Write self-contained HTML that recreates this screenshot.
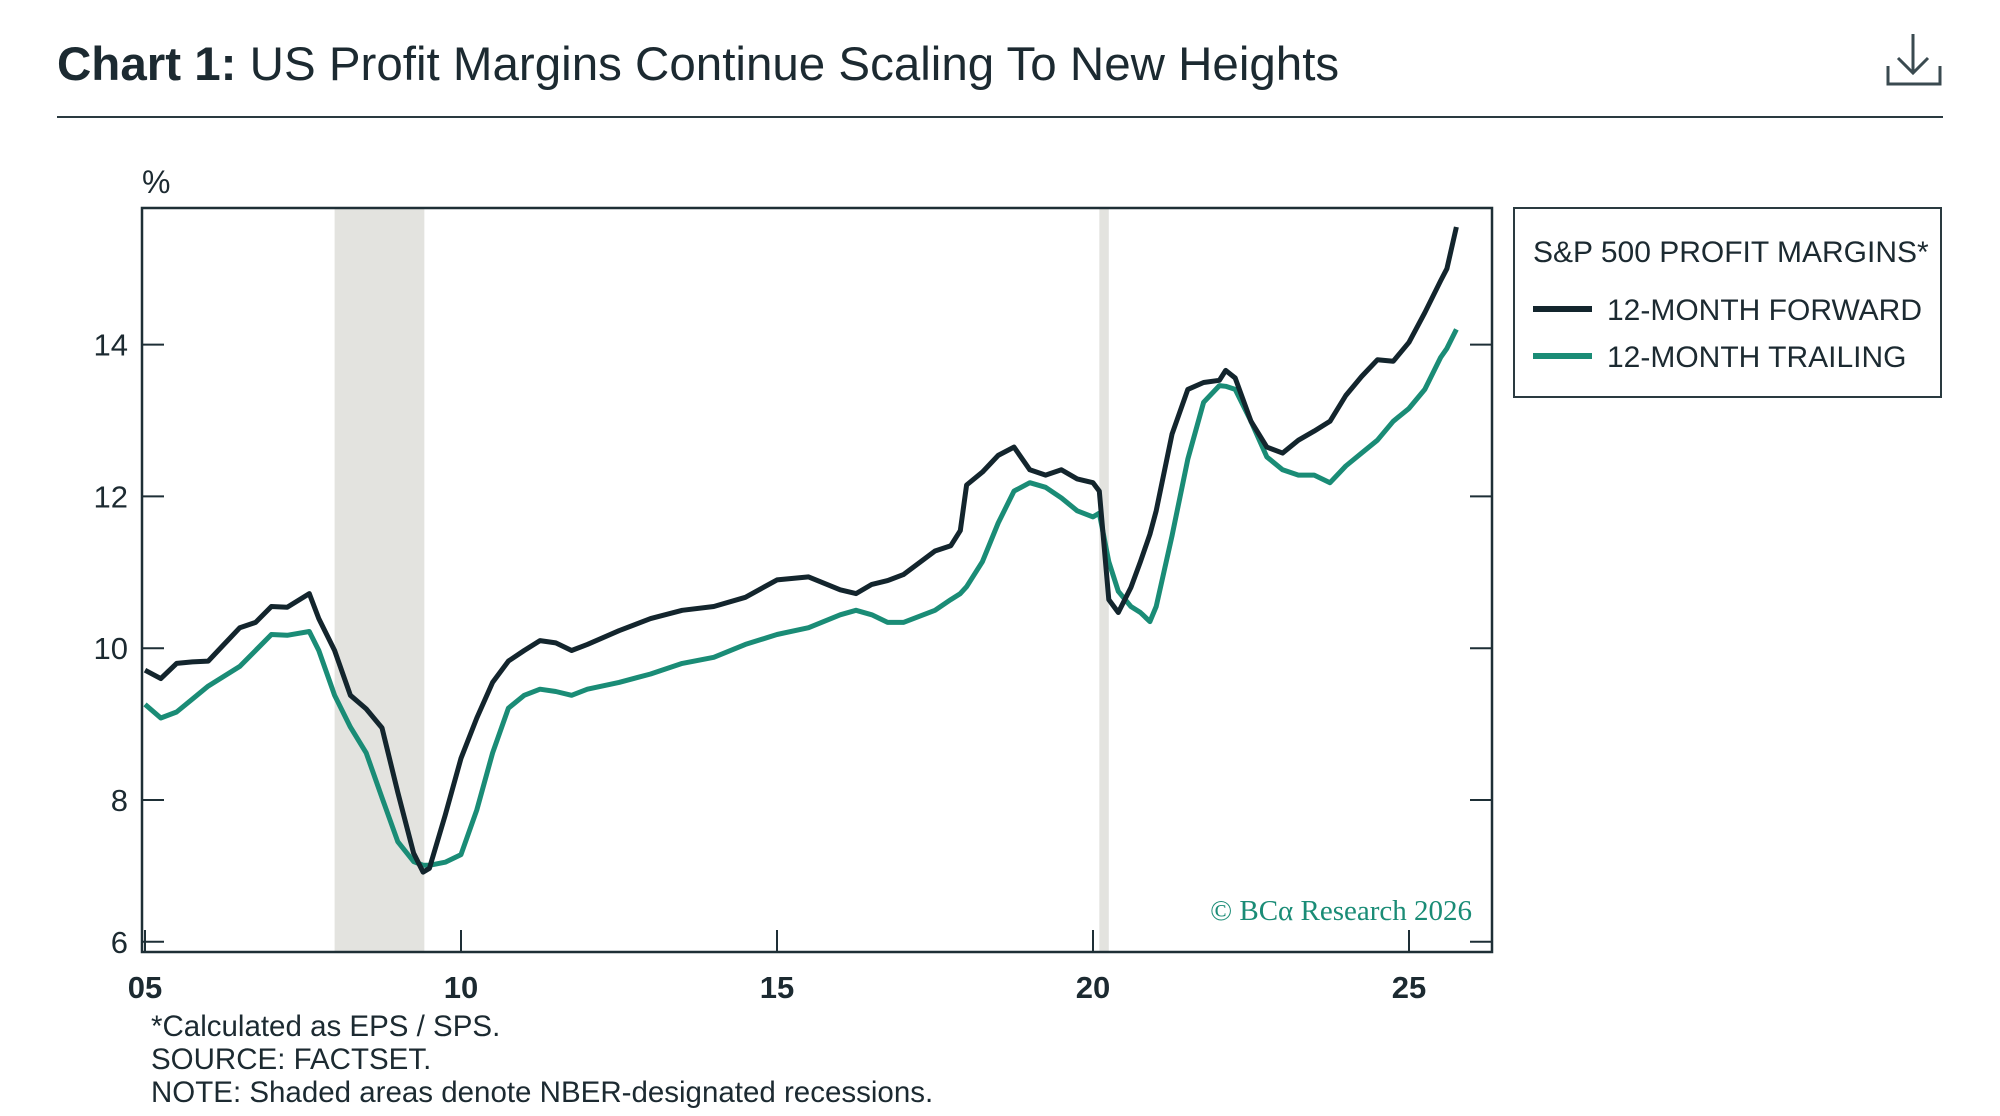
<!DOCTYPE html>
<html><head><meta charset="utf-8"><style>
body{margin:0;background:#fff;}
svg{display:block;font-family:"Liberation Sans",sans-serif;}
</style></head><body>
<svg width="2000" height="1116" viewBox="0 0 2000 1116">
<text x="57" y="80" font-size="47.5" fill="#1c2a31"><tspan font-weight="bold">Chart 1:</tspan> US Profit Margins Continue Scaling To New Heights</text>
<line x1="57" y1="117" x2="1943" y2="117" stroke="#2a3a40" stroke-width="2"/>
<g stroke="#3a4a50" stroke-width="3" fill="none">
<path d="M1913 34 V72 M1898 58 L1913 73 L1928 58"/>
<path d="M1888 66 V84 H1940 V66"/>
</g>
<text x="142" y="193" font-size="32" fill="#1c2a31">%</text>
<g id="plot"></g>
<rect x="1514" y="208" width="427" height="189" fill="none" stroke="#2a3a40" stroke-width="2"/>
<text x="1533" y="262" font-size="30" fill="#1c2a31">S&amp;P 500 PROFIT MARGINS*</text>
<line x1="1533" y1="309" x2="1592" y2="309" stroke="#13252d" stroke-width="6"/>
<text x="1607" y="320" font-size="30" fill="#1c2a31">12-MONTH FORWARD</text>
<line x1="1533" y1="356" x2="1592" y2="356" stroke="#1a8c76" stroke-width="6"/>
<text x="1607" y="367" font-size="30" fill="#1c2a31">12-MONTH TRAILING</text>
<text x="1472" y="920" font-size="29" text-anchor="end" fill="#1a8c76" font-family="Liberation Serif, serif">© BCα Research 2026</text>
<g font-size="29.5" fill="#1c2a31">
<text x="151" y="1036">*Calculated as EPS / SPS.</text>
<text x="151" y="1069">SOURCE: FACTSET.</text>
<text x="151" y="1102">NOTE: Shaded areas denote NBER-designated recessions.</text>
</g>
</svg>
<script>
const years=[2005,2005.25,2005.5,2005.75,2006,2006.25,2006.5,2006.75,2007,2007.25,2007.6,2007.75,2008,2008.25,2008.5,2008.75,2009,2009.25,2009.4,2009.5,2009.75,2010,2010.25,2010.5,2010.75,2011,2011.25,2011.5,2011.75,2012,2012.5,2013,2013.5,2014,2014.5,2015,2015.5,2016,2016.25,2016.5,2016.75,2017,2017.5,2017.75,2017.9,2018,2018.25,2018.5,2018.75,2019,2019.25,2019.5,2019.75,2020,2020.1,2020.25,2020.4,2020.6,2020.75,2020.9,2021,2021.25,2021.5,2021.75,2022,2022.1,2022.25,2022.5,2022.75,2023,2023.25,2023.5,2023.75,2024,2024.25,2024.5,2024.75,2025,2025.25,2025.5,2025.6,2025.75];
const forward=[9.71,9.6,9.8,9.82,9.83,10.05,10.27,10.34,10.55,10.54,10.72,10.39,9.97,9.38,9.2,8.95,8.1,7.3,7.05,7.1,7.8,8.55,9.08,9.55,9.83,9.97,10.1,10.07,9.97,10.05,10.23,10.39,10.5,10.55,10.67,10.9,10.94,10.77,10.72,10.84,10.89,10.97,11.28,11.35,11.55,12.15,12.32,12.54,12.65,12.35,12.28,12.35,12.23,12.18,12.07,10.64,10.47,10.8,11.14,11.5,11.81,12.82,13.41,13.5,13.53,13.66,13.56,12.99,12.65,12.57,12.74,12.86,12.99,13.33,13.58,13.8,13.78,14.03,14.42,14.84,15.0,15.55];
const trailing=[9.26,9.08,9.16,9.33,9.5,9.63,9.76,9.97,10.18,10.17,10.22,9.97,9.38,8.96,8.62,8.03,7.45,7.19,7.14,7.14,7.18,7.28,7.87,8.62,9.21,9.38,9.46,9.43,9.38,9.46,9.55,9.66,9.8,9.88,10.05,10.18,10.27,10.44,10.5,10.44,10.34,10.34,10.5,10.64,10.72,10.81,11.14,11.65,12.07,12.18,12.12,11.98,11.81,11.73,11.78,11.14,10.75,10.55,10.47,10.35,10.55,11.48,12.49,13.24,13.46,13.45,13.41,12.99,12.52,12.35,12.28,12.28,12.18,12.4,12.57,12.74,12.99,13.16,13.41,13.83,13.95,14.2];
const yTicks=[6,8,10,12,14];
const yTickLabels=["6","8","10","12","14"];
const xTicks=[2005,2010,2015,2020,2025];
const xTickLabels=["05","10","15","20","25"];
const recessions=[[2008.0,2009.42],[2020.1,2020.25]];

const L=142,R=1492,T=208,B=952;
const xS=y=>145+(y-2005)*63.2;
const yS=v=>800-(v-8)*75.9;
const NS="http://www.w3.org/2000/svg";
const g=document.getElementById('plot');
function mk(tag,attrs){const e=document.createElementNS(NS,tag);for(const k in attrs)e.setAttribute(k,attrs[k]);g.appendChild(e);return e;}
recessions.forEach((r,i)=>{
  const e=mk('rect',{x:xS(r[0]),y:T,width:xS(r[1])-xS(r[0]),height:B-T,fill:'#e3e3df'});
  
  
});
const fr=mk('rect',{x:L,y:T,width:R-L,height:B-T,fill:'none',stroke:'#1e2f36','stroke-width':2.5});


yTicks.forEach((v,i)=>{
  const y=v===6?yS(v)-10:yS(v);
  const t1=mk('line',{x1:L,x2:L+22,y1:y,y2:y,stroke:'#1e2f36','stroke-width':2});
  
  
  const t2=mk('line',{x1:R-22,x2:R,y1:y,y2:y,stroke:'#1e2f36','stroke-width':2});
  
  
  const tx=mk('text',{x:128,y:y+11,'font-size':31,'text-anchor':'end',fill:'#1c2a31'});
  tx.textContent=yTickLabels[i];
  
  
});
xTicks.forEach((v,i)=>{
  const x=xS(v);
  const t=mk('line',{x1:x,x2:x,y1:B-22,y2:B,stroke:'#1e2f36','stroke-width':2});
  
  
  const tx=mk('text',{x:x,y:998,'font-size':31,'font-weight':'bold','text-anchor':'middle',fill:'#1c2a31'});
  tx.textContent=xTickLabels[i];
  
  
});
function line(vals,color,name){
  const d=vals.map((v,i)=>(i?'L':'M')+xS(years[i]).toFixed(1)+' '+yS(v).toFixed(1)).join(' ');
  const p=mk('path',{d:d,fill:'none',stroke:color,'stroke-width':5,'stroke-linejoin':'round'});
  
  
}
line(trailing,'#1a8c76','trailing-line');
line(forward,'#13252d','forward-line');
</script>
</body></html>
